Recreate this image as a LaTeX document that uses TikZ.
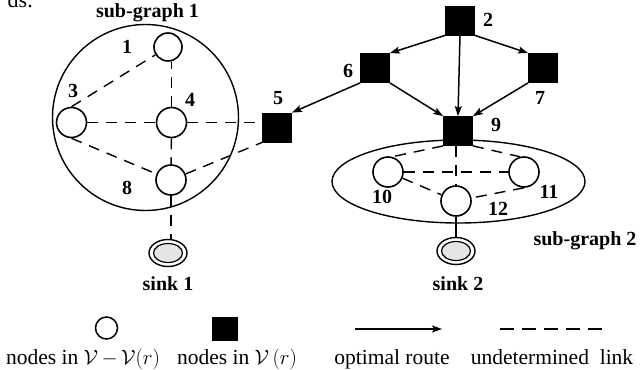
\documentclass[tikz,border=0pt]{standalone}
\usepackage{fontspec}
\setmainfont{Liberation Serif}
\usetikzlibrary{shapes.geometric,arrows.meta}
\begin{document}
\begin{tikzpicture}[x=1pt,y=-1pt,
  vnode/.style={circle,draw,line width=1.6pt,minimum size=30pt,inner sep=0pt,fill=white},
  rnode/.style={rectangle,draw,fill=black,line width=0.8pt,minimum size=29pt,inner sep=0pt},
  lbl/.style={font=\bfseries\fontsize{20}{24}\selectfont,inner sep=0pt},
  leg/.style={font=\fontsize{21.5}{26}\selectfont,inner sep=0pt,anchor=base},
  dlink/.style={line width=1.4pt,dash pattern=on 11pt off 8pt},
  route/.style={line width=1.5pt,-{Stealth[length=10pt,width=7pt,inset=2pt]}},
  group/.style={draw,line width=1.4pt,inner sep=0pt},
  sinkn/.style={ellipse,draw,line width=1.4pt,minimum width=38pt,minimum height=27pt,inner sep=0pt},
  sinkin/.style={draw,line width=1.2pt,fill=gray!20},
]
\useasboundingbox (0,0) rectangle (641,370);
\node[font=\fontsize{22}{26}\selectfont,inner sep=0pt,anchor=base east] (frag) at (33,7.5) {ds.};
% groups
\node[group,circle,minimum size=186pt] (g1) at (145.5,117.5) {};
\node[group,ellipse,minimum width=253pt,minimum height=83pt] (g2) at (458.5,181.5) {};
% nodes
\node[vnode,minimum size=28pt] (n1) at (168,47) {};
\node[vnode] (n3) at (71.5,122.5) {};
\node[vnode] (n4) at (171.5,122.5) {};
\node[vnode] (n8) at (171,180) {};
\node[rnode] (n5) at (277,127.5) {};
\node[rnode] (n2) at (460,20.5) {};
\node[rnode] (n6) at (375,68) {};
\node[rnode] (n7) at (543,68) {};
\node[rnode] (n9) at (458,131) {};
\node[vnode] (n10) at (388,172) {};
\node[vnode] (n11) at (524,172) {};
\node[vnode] (n12) at (456,201) {};
\node[sinkn] (s1) at (168,253) {};
\node[sinkn] (s2) at (456,251) {};
\draw[sinkin] (s1.center) ellipse [x radius=14.5, y radius=9.5];
\draw[sinkin] (s2.center) ellipse [x radius=14.5, y radius=9.5];
% undetermined links
\draw[dlink] (n3.north) -- (n1);
\draw[dlink] (n3.south) -- (n8);
\draw[dlink] (n3) -- (n4);
\draw[dlink] (n4.north) -- (n4.north |- n1.south);
\draw[dlink] (n4) -- (n4 -| n5.west);
\draw[dlink] (n4) -- (n8);
\draw[dlink] (n8) -- (n5.south west);
\draw[dlink] (n8.south) -- (n8.south |- s1.north);
\draw[dlink] (n9.south west) -- (n10.75);
\draw[dlink] (n9.south east) -- (n11.105);
\draw[dlink] (n12.north |- n9.south) -- (n12.north);
\draw[dlink] (n10) -- (n11);
\draw[dlink] (n10) -- (n12);
\draw[dlink] (n11.south) -- (n12);
\draw[line width=1.4pt] (n12.south) -- (n12.south |- s2.north);
% optimal routes
\draw[route] (n2.south west) -- (n6.north east);
\draw[route] (n2.south east) -- (n7.north west);
\draw[route] (n2.south) -- (n9.north);
\draw[route] (n6.south east) -- (n9.north west);
\draw[route] (n7.south west) -- (n9.north east);
\draw[route] (n6.south west) -- (n5.north east);
% labels
\node[lbl] (t1) at (127,47) {1};
\node[lbl] (t3) at (73,91) {3};
\node[lbl] (t4) at (190,100) {4};
\node[lbl] (t8) at (127,188) {8};
\node[lbl] (t5) at (278,98) {5};
\node[lbl] (t2) at (488,20) {2};
\node[lbl] (t6) at (348,71) {6};
\node[lbl] (t7) at (540,98) {7};
\node[lbl] (t9) at (496,125) {9};
\node[lbl] (t10) at (382,197) {10};
\node[lbl] (t11) at (549,192) {11};
\node[lbl] (t12) at (498,209) {12};
\node[lbl,anchor=base] (tg1) at (147.5,17.5) {sub-graph 1};
\node[lbl,anchor=base] (tg2) at (585,245) {sub-graph 2};
\node[lbl,anchor=base] (ts1) at (168,290) {sink 1};
\node[lbl,anchor=base] (ts2) at (458,290) {sink 2};
% legend
\node[vnode,minimum size=22pt,line width=1.5pt] (lc) at (106.5,328) {};
\node[rnode,minimum width=25pt,minimum height=23pt] (ls) at (224.5,328.5) {};
\coordinate (la1) at (355,329);
\coordinate (la2) at (442,329);
\draw[route,line width=1.3pt] (la1) -- (la2);
\coordinate (ld1) at (500,329);
\coordinate (ld2) at (602,329);
\draw[line width=1.5pt,dash pattern=on 14.4pt off 7.5pt] (ld1) -- (ld2);
\node[leg] (lt1) at (83,364) {nodes in $\mathcal{V}{\,-\,}\mathcal{V}(r)$};
\node[leg] (lt2) at (237,364) {nodes in $\mathcal{V}\,(r)$};
\node[leg] (lt3) at (392,364) {optimal route};
\node[leg] (lt4) at (552,364) {undetermined\ \ link};
\end{tikzpicture}
\end{document}
